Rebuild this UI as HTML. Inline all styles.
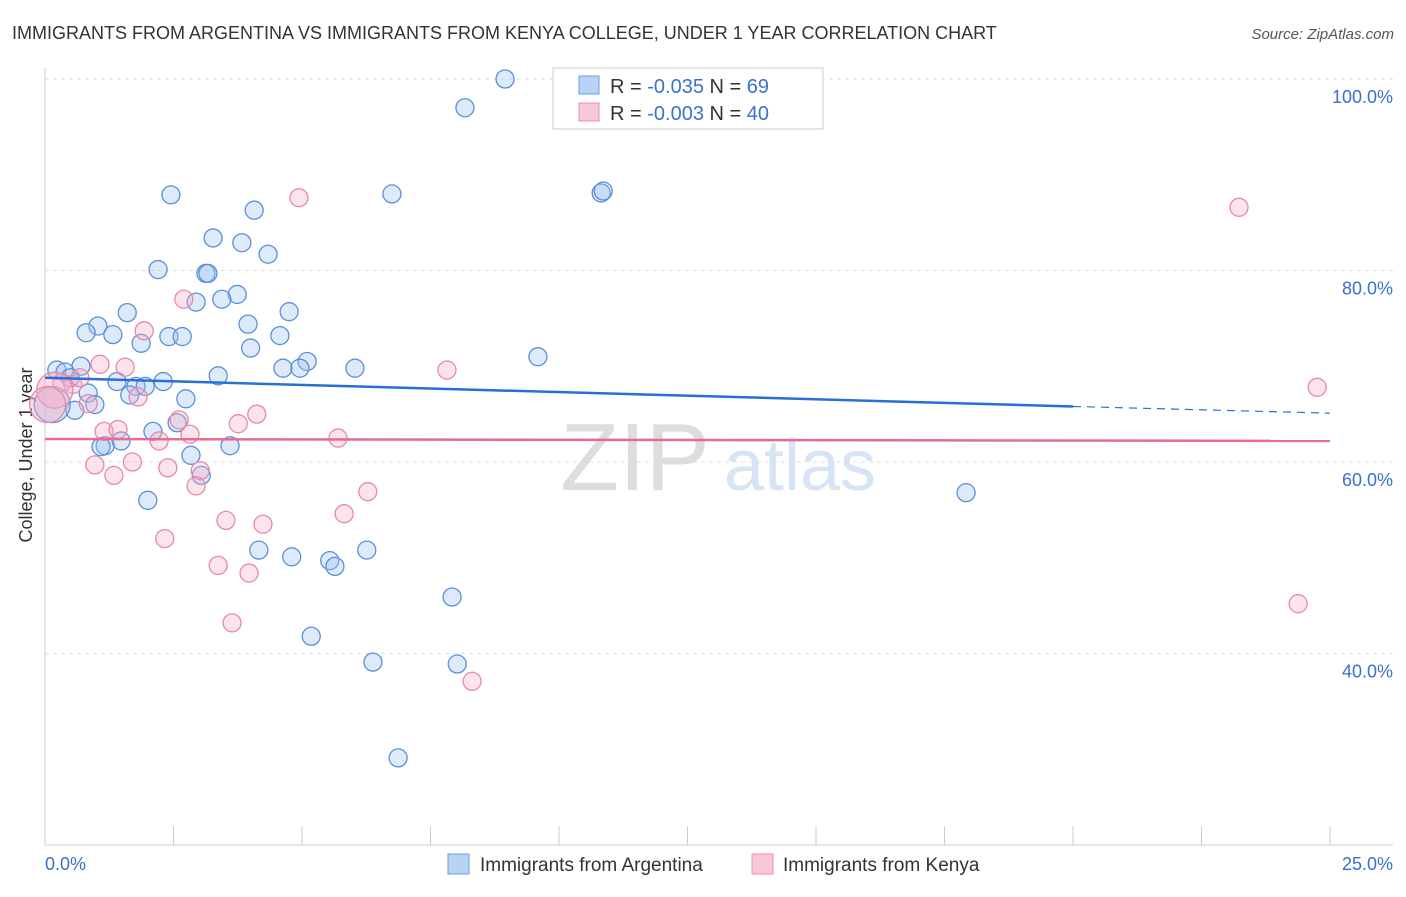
<!DOCTYPE html>
<html><head><meta charset="utf-8"><style>
body{margin:0;background:#fff;font-family:"Liberation Sans",sans-serif;}
svg text{font-family:"Liberation Sans",sans-serif;}
</style></head><body>
<svg width="1406" height="892" id="c">
<text x="12" y="39" font-size="18" fill="#333">IMMIGRANTS FROM ARGENTINA VS IMMIGRANTS FROM KENYA COLLEGE, UNDER 1 YEAR CORRELATION CHART</text>
<text x="1394" y="39" font-size="15" fill="#555" text-anchor="end" font-style="italic">Source: ZipAtlas.com</text>
<text x="32" y="455" font-size="18" fill="#333" text-anchor="middle" transform="rotate(-90 32 455)">College, Under 1 year</text>
<g><text x="635" y="490" font-size="96" fill="#ddd" text-anchor="middle" font-family="Liberation Serif">ZIP</text><text x="800" y="490" font-size="72" fill="#d6e4f5" text-anchor="middle">atlas</text></g>
<g id="grid"></g><g id="pts"></g><g id="lines"></g>
<g>
<rect x="553" y="68" width="270" height="61" fill="#fff" stroke="#ccc"/>
<rect x="579" y="76" width="20" height="18" fill="#b8d3f5" stroke="#6a9fe0"/>
<rect x="579" y="103" width="20" height="18" fill="#f8c8d8" stroke="#e890b0"/>
<text x="610" y="93" font-size="20" fill="#333">R = <tspan fill="#3a70d0">-0.035</tspan>   N = <tspan fill="#3a70d0">69</tspan></text>
<text x="610" y="120" font-size="20" fill="#333">R = <tspan fill="#3a70d0">-0.003</tspan>   N = <tspan fill="#3a70d0">40</tspan></text>
</g>
<g>
<rect x="448" y="854" width="21" height="20" fill="#b8d3f5" stroke="#6a9fe0"/>
<text x="480" y="871" font-size="19" fill="#333">Immigrants from Argentina</text>
<rect x="752" y="854" width="21" height="20" fill="#f8c8d8" stroke="#e890b0"/>
<text x="783" y="871" font-size="19" fill="#333">Immigrants from Kenya</text>
</g>
<text x="45" y="870" font-size="18" fill="#3a70d0">0.0%</text>
<text x="1393" y="870" font-size="18" fill="#3a70d0" text-anchor="end">25.0%</text>
</svg>
<script>
const yTicks=[100,80,60,40];
const blueX=[8.95,8.17,2.45,6.75,10.82,10.86,4.07,3.27,3.83,4.34,2.2,3.13,3.17,3.74,3.44,2.94,1.6,4.75,1.03,3.95,0.8,1.32,2.41,2.67,4.57,1.87,4.0,9.59,0.23,0.7,0.39,4.63,5.1,4.96,6.03,3.37,0.49,1.4,2.3,1.77,1.95,1.65,2.74,0.84,0.97,0.58,2.1,2.57,1.48,1.17,1.09,2.84,3.6,3.04,2.0,17.92,4.16,4.8,5.54,5.64,6.26,7.92,5.18,6.38,8.02,6.87,0.14];
const blueY=[100,97.0,87.9,88.0,88.1,88.3,86.3,83.4,82.9,81.7,80.1,79.7,79.7,77.5,77.0,76.7,75.6,75.7,74.2,74.4,73.5,73.3,73.1,73.1,73.2,72.4,71.9,71.0,69.6,70.0,69.4,69.8,70.5,69.8,69.8,69.0,68.8,68.4,68.4,67.9,67.9,67.0,66.6,67.2,66.0,65.4,63.2,64.1,62.2,61.7,61.6,60.7,61.7,58.6,56.0,56.8,50.8,50.1,49.7,49.1,50.8,45.9,41.8,39.1,38.9,29.1,66.0];
const pinkX=[4.94,23.23,2.7,1.93,1.07,1.56,7.82,24.75,0.33,0.54,0.68,1.81,0.84,4.12,2.61,3.76,1.15,1.42,2.82,5.7,2.22,1.7,0.97,2.39,3.02,1.34,2.94,6.28,5.82,3.52,4.24,2.33,3.37,3.97,24.38,3.64,8.31,0.19,0.05];
const pinkY=[87.6,86.6,77.0,73.7,70.2,69.9,69.6,67.8,68.3,68.1,68.8,66.8,66.1,65.0,64.4,64.0,63.2,63.4,62.9,62.5,62.2,60.0,59.7,59.4,59.1,58.6,57.5,56.9,54.6,53.9,53.5,52.0,49.2,48.4,45.2,43.2,37.1,67.5,66.0];
const blueTrend=[68.8,65.8,65.1];const blueTrendX=[0,20,25];
const pinkTrend=[62.4,62.2];
const sx=v=>45+v*51.4, sy=v=>79+(100-v)*9.575;
const NS='http://www.w3.org/2000/svg';
function mk(t,a,p){const e=document.createElementNS(NS,t);for(const k in a)e.setAttribute(k,a[k]);p.appendChild(e);return e;}
const g=document.getElementById('grid');
mk('line',{x1:45,y1:68,x2:45,y2:845,stroke:'#ccc'},g);
mk('line',{x1:45,y1:845,x2:1393,y2:845,stroke:'#ccc'},g);
yTicks.forEach(v=>{const l=mk('line',{x1:45,y1:sy(v),x2:1393,y2:sy(v),stroke:'#ddd','stroke-dasharray':'4,4'},g);

const t=mk('text',{x:1393,y:sy(v)+24,'font-size':18,fill:'#3a70d0','text-anchor':'end'},g);t.textContent=v.toFixed(1)+'%';
});
for(let i=0;i<=10;i++){const l=mk('line',{x1:sx(i*2.5),y1:826,x2:sx(i*2.5),y2:845,stroke:'#ccc'},g);
}
const p=document.getElementById('pts');
function dots(X,Y,f,s,name){X.forEach((x,i)=>{const big=(i===X.length-1&&x<0.2)||(name==='pink-point'&&i===X.length-2);
const c=mk('circle',{cx:sx(x),cy:sy(Y[i]),r:big?18:9,fill:f,'fill-opacity':big?0.45:0.35,stroke:s,'stroke-width':1.3},p);
});}
dots(blueX,blueY,'#9fc2f0','#5b8fd8','blue-point');
dots(pinkX,pinkY,'#f5b0c8','#e58aaa','pink-point');
const L=document.getElementById('lines');
let b=mk('line',{x1:sx(blueTrendX[0]),y1:sy(blueTrend[0]),x2:sx(blueTrendX[1]),y2:sy(blueTrend[1]),stroke:'#2a6fd6','stroke-width':2.5},L);

b=mk('line',{x1:sx(blueTrendX[1]),y1:sy(blueTrend[1]),x2:sx(blueTrendX[2]),y2:sy(blueTrend[2]),stroke:'#2a6fd6','stroke-width':1.2,'stroke-dasharray':'8,6'},L);

b=mk('line',{x1:sx(0),y1:sy(pinkTrend[0]),x2:sx(25),y2:sy(pinkTrend[1]),stroke:'#e86a94','stroke-width':2.5},L);

</script>
</body></html>
